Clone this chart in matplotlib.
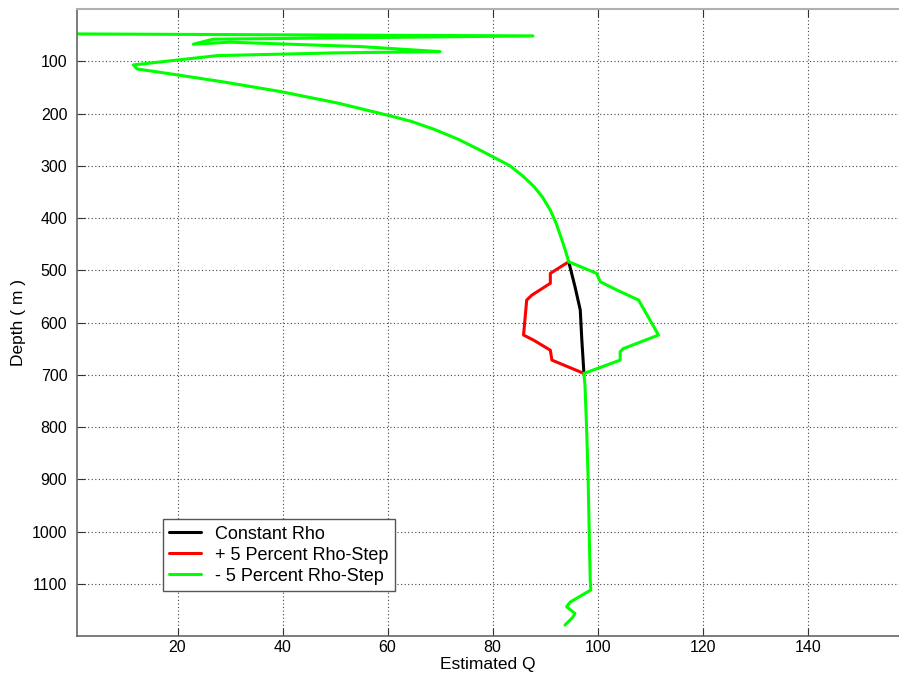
import matplotlib
matplotlib.use("Agg")
import matplotlib.pyplot as plt

# Estimated Q versus depth for three density models
depth_common_top = [47.7, 51.5, 57.8, 67.4, 63.5, 72.0, 81.6, 84.0, 89.2, 107.0, 114.7,
                    126.0, 140.0, 158.0, 180.0, 203.0, 215.0, 230.0, 250.0, 270.0, 300.0,
                    320.0, 340.0, 360.0, 385.0, 410.0, 436.0, 460.0, 483.7]
q_common_top = [0.9, 87.7, 26.8, 23.0, 30.0, 55.0, 70.0, 50.0, 27.6, 11.6, 12.3,
                19.9, 29.0, 39.6, 50.5, 59.9, 64.5, 68.8, 73.6, 77.6, 83.3,
                85.8, 87.9, 89.5, 91.0, 92.1, 93.0, 93.8, 94.5]

depth_common_bottom = [697.5, 720.0, 800.0, 900.0, 1000.0, 1093.0, 1112.0,
                       1135.0, 1144.0, 1157.0, 1165.0, 1179.0]
q_common_bottom = [97.4, 97.6, 97.9, 98.2, 98.4, 98.6, 98.7,
                   94.8, 94.1, 95.7, 95.2, 93.8]

# Anomalous interval (roughly 480-700 m)
depth_const = [483.7, 531.6, 576.0, 633.7, 697.5]
q_const = [94.5, 95.7, 96.7, 97.0, 97.4]

depth_plus = [483.7, 506.0, 525.0, 547.5, 557.0, 624.0, 633.7, 653.0, 672.0, 697.5]
q_plus = [94.5, 91.0, 91.0, 87.5, 86.5, 85.9, 87.8, 91.0, 91.3, 97.4]

depth_minus = [483.7, 506.0, 522.0, 538.0, 557.0, 624.0, 650.0, 656.0, 672.0, 697.5]
q_minus = [94.5, 99.8, 100.5, 103.7, 107.8, 111.6, 104.9, 104.3, 104.3, 97.4]

series_labels = ["Constant Rho", "+ 5 Percent Rho-Step", "- 5 Percent Rho-Step"]
x_ticks = [20, 40, 60, 80, 100, 120, 140]
y_ticks = [100, 200, 300, 400, 500, 600, 700, 800, 900, 1000, 1100]

plt.rcParams['font.family'] = ['Liberation Sans', 'DejaVu Sans']

fig = plt.figure(figsize=(8.99, 6.80), dpi=100)
ax = fig.add_axes([77 / 899, 1 - 636 / 680, 1 - 77 / 899, (636 - 9) / 680])

GREEN = "#00ff00"
LW = 2.2

# The three models share the profile outside the step interval; only the
# "- 5 percent" curve is drawn there since it sits on top of the others.
ax.plot(q_const, depth_const, color="black", lw=LW, label=series_labels[0],
        solid_joinstyle='round', solid_capstyle='round')
ax.plot(q_plus, depth_plus, color="red", lw=LW, label=series_labels[1],
        solid_joinstyle='round', solid_capstyle='round')
q_full = q_common_top + q_minus[1:-1] + q_common_bottom
d_full = depth_common_top + depth_minus[1:-1] + depth_common_bottom
ax.plot(q_full, d_full, color=GREEN, lw=LW, label=series_labels[2],
        solid_joinstyle='round', solid_capstyle='round')

ax.set_xlim(0.86, 157.4)
ax.set_ylim(1200, 0)
ax.set_xticks(x_ticks)
ax.set_yticks(y_ticks)

ax.grid(True, color='#444444', linestyle=(0, (1, 2.2)), linewidth=0.8)
ax.tick_params(direction='in', length=6, width=0.8, color='#333333',
               labelsize=11.5, top=True, right=False)
ax.tick_params(axis='x', pad=3)
ax.tick_params(axis='y', pad=7)
for side in ['left', 'bottom']:
    ax.spines[side].set_color('#666666')
    ax.spines[side].set_linewidth(1.2)
ax.spines['top'].set_color('#b0b0b0')
ax.spines['top'].set_linewidth(1.5)
ax.spines['right'].set_visible(False)

ax.set_xlabel("Estimated Q", fontsize=12.5, labelpad=1)
ax.set_ylabel("Depth ( m )", fontsize=12.5, labelpad=4)

leg = ax.legend(loc='lower left', bbox_to_anchor=(86 / 822, 45 / 627), fontsize=13,
                frameon=True, fancybox=False, handlelength=1.75, borderpad=0.35,
                labelspacing=0.22, handletextpad=0.8, borderaxespad=0)
leg.get_frame().set_edgecolor('#555555')
leg.get_frame().set_linewidth(1.0)
leg.get_frame().set_alpha(1.0)

fig.savefig("out.png", dpi=100)
